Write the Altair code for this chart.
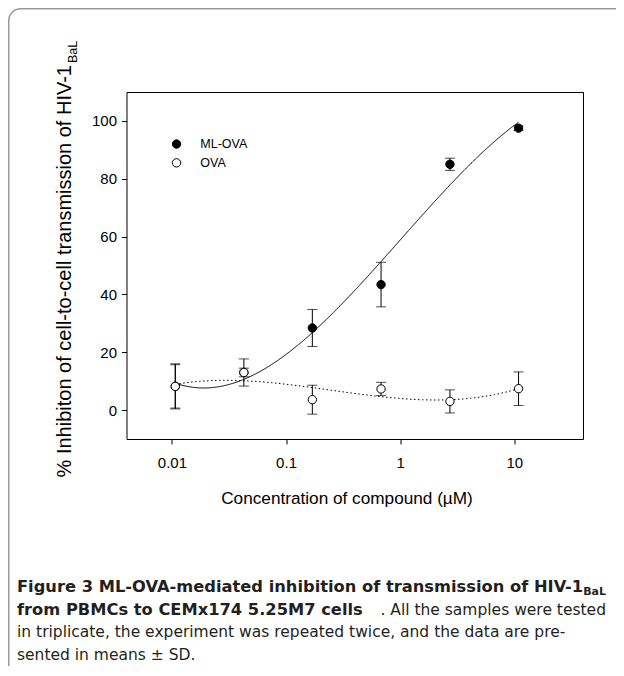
import altair as alt
import pandas as pd

# ---- data ----
conc = [0.0107, 0.0427, 0.170, 0.68, 2.73, 10.9]
ml_mean = [8.2, 13.0, 28.4, 43.4, 85.0, 97.5]
ml_sd = [7.5, 1.5, 6.4, 7.7, 2.1, 0.8]
ova_mean = [8.2, 13.0, 3.6, 7.3, 3.0, 7.4]
ova_sd = [7.8, 4.7, 5.0, 2.3, 4.0, 5.8]
series_names = ["ML-OVA", "OVA"]
x_ticks = [0.01, 0.1, 1, 10]
y_ticks = [0, 20, 40, 60, 80, 100]

ytitle_main = "% Inhibiton of cell-to-cell transmission of HIV-1"
ytitle_sub = "BaL"
xtitle = "Concentration of compound (\u00b5M)"
cap1_bold = "Figure 3 ML-OVA-mediated inhibition of transmission of HIV-1"
cap1_sub = "BaL"
cap2_bold = "from PBMCs to CEMx174 5.25M7 cells"
cap2_reg = ". All the samples were tested"
cap3 = "in triplicate, the experiment was repeated twice, and the data are pre-"
cap4 = "sented in means \u00b1 SD."

df = pd.DataFrame({
    "series": [series_names[0]] * len(conc) + [series_names[1]] * len(conc),
    "conc": conc + conc,
    "mean": ml_mean + ova_mean,
    "sd": ml_sd + ova_sd,
})

W, H = 456.5, 347
FONT = "Liberation Sans"
CAPFONT = "DejaVu Sans"
CAPCOLOR = "#231f20"

xscale = alt.Scale(type="log", domain=[0.004, 40], nice=False)
yscale = alt.Scale(domain=[-10, 110], nice=False, zero=False)

xenc = alt.X("conc:Q", scale=xscale,
             axis=alt.Axis(values=x_ticks, format="~g", title=None, tickSize=5,
                           labelPadding=11, labelFontSize=15, labelFont=FONT,
                           labelColor="black", tickColor="black", domain=False, grid=False))
yenc = alt.Y("mean:Q", scale=yscale,
             axis=alt.Axis(values=y_ticks, title=None, tickSize=5, labelPadding=5,
                           labelFontSize=15, labelFont=FONT, labelColor="black",
                           tickColor="black", domain=False, grid=False))

base = alt.Chart(df)

errbars = base.transform_calculate(
    lo="datum.mean - datum.sd", hi="datum.mean + datum.sd"
).mark_errorbar(ticks={"size": 10, "color": "black", "strokeWidth": 1},
                rule={"color": "black", "strokeWidth": 1}).encode(
    x=xenc,
    y=alt.Y("lo:Q", scale=yscale, title=None),
    y2="hi:Q",
)

def curve(name, dash):
    return base.transform_filter(alt.datum.series == name).transform_calculate(
        lx="log(datum.conc)/LN10"
    ).transform_regression("lx", "mean", method="poly", order=3).transform_calculate(
        conc="pow(10, datum.lx)"
    ).mark_line(color="black", strokeWidth=1, strokeDash=dash).encode(x=xenc, y=yenc)

ml_curve = curve("ML-OVA", [1, 0])
ova_curve = curve("OVA", [1.5, 2.5])

points = base.mark_point(shape="circle", filled=True, size=70, stroke="black",
                         strokeWidth=1, opacity=1).encode(
    x=xenc, y=yenc,
    fill=alt.Fill("series:N",
                  scale=alt.Scale(domain=series_names, range=["black", "white"]),
                  legend=alt.Legend(title=None, orient="none", legendX=43.8, legendY=45.8,
                                    symbolType="circle", symbolSize=70,
                                    symbolStrokeColor="black", symbolStrokeWidth=1,
                                    symbolOpacity=1, labelFont=FONT, labelFontSize=12.5,
                                    labelColor="black", labelOffset=17.5, rowPadding=5.8,
                                    padding=0)),
    order=alt.Order("series:N", sort="ascending"),
)

one = pd.DataFrame({"k": [0]})

def label(text, x, y, size, font=FONT, weight="normal", angle=0, align="left",
          baseline="middle", color="black"):
    return alt.Chart(one).mark_text(text=text, font=font, fontSize=size, fontWeight=weight,
                                    angle=angle, align=align, baseline=baseline,
                                    color=color).encode(x=alt.value(x), y=alt.value(y))

frame = alt.Chart(one).mark_rect(filled=False, stroke="#9a9a9a", strokeWidth=1.5,
                                 cornerRadius=12).encode(
    x=alt.value(-117.75), y=alt.value(-83.25), x2=alt.value(530), y2=alt.value(700))

texts = [
    label(ytitle_main, -61.5, -27, 20, angle=270, align="right"),
    label(ytitle_sub, -53.5, -29, 12.5, angle=270, align="left"),
    label(xtitle, 220.5, 406.5, 17.2, align="center"),
    label(cap1_bold, -109.5, 495, 16.3, font=CAPFONT, weight="bold", color=CAPCOLOR),
    label(cap1_sub, 479.5, 500, 11, font=CAPFONT, weight="bold", align="right", color=CAPCOLOR),
    label(cap2_bold, -109.5, 517.5, 16.3, font=CAPFONT, weight="bold", color=CAPCOLOR),
    label(cap2_reg, 479.5, 517.5, 15.5, font=CAPFONT, align="right", color=CAPCOLOR),
    label(cap3, -109.5, 540, 15.5, font=CAPFONT, color=CAPCOLOR),
    label(cap4, -109.5, 562.5, 15.5, font=CAPFONT, color=CAPCOLOR),
]

chart = alt.layer(frame, errbars, ml_curve, ova_curve, points, *texts).properties(
    width=W, height=H,
    padding={"left": 118.5, "top": 84, "right": 608 - 118.5 - W, "bottom": 658 - 84 - H},
    autosize=alt.AutoSizeParams(type="none"),
    background="white",
).configure_view(stroke="black", strokeWidth=1)

chart.save("out.html", embed_options={"renderer": "svg", "actions": False})
